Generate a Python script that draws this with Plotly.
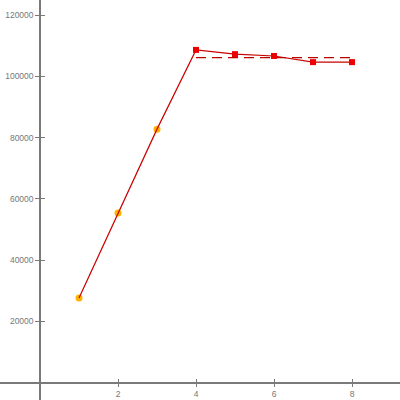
import plotly.graph_objects as go

x_vals = [1, 2, 3, 4, 5, 6, 7, 8]
y_vals = [27600, 55400, 82800, 108700, 107300, 106700, 104700, 104700]
orange_idx = [0, 1, 2]
red_idx = [3, 4, 5, 6, 7]
mean_x = [4, 8]
mean_val = 106200
x_ticks = [2, 4, 6, 8]
y_ticks = [20000, 40000, 60000, 80000, 100000, 120000]

fig = go.Figure()
fig.add_trace(go.Scatter(
    x=[x_vals[i] for i in orange_idx], y=[y_vals[i] for i in orange_idx],
    mode="markers", marker=dict(color="#ffb300", size=7, line=dict(width=0)),
    showlegend=False))
fig.add_trace(go.Scatter(
    x=x_vals, y=y_vals, mode="lines",
    line=dict(color="#cc0000", width=1.2), showlegend=False))
fig.add_trace(go.Scatter(
    x=mean_x, y=[mean_val] * len(mean_x), mode="lines",
    line=dict(color="#bb0000", width=1.2, dash="10px,6px"), showlegend=False))
fig.add_trace(go.Scatter(
    x=[x_vals[i] for i in red_idx], y=[y_vals[i] for i in red_idx],
    mode="markers", marker=dict(color="#ee0000", size=6, symbol="square"),
    showlegend=False))

xr = [-40 / 39, 360 / 39]
yr = [-17.5 * 20000 / 61.2, 382.5 * 20000 / 61.2]
axcol = "#7a7a7a"
font = dict(family="Liberation Sans", size=8.5, color="#777777")

common = dict(showgrid=False, zeroline=False, anchor="free", automargin=False,
              ticklen=4, tickcolor=axcol, tickwidth=1.2, tickformat="d")
fig.update_layout(
    width=400, height=400, margin=dict(l=0, r=0, t=0, b=0, autoexpand=False),
    plot_bgcolor="white", paper_bgcolor="white",
    xaxis=dict(range=xr, showline=True, linecolor=axcol, linewidth=1.5,
               position=17.5 / 400, tickvals=x_ticks, ticks="outside",
               tickfont=font, **common),
    yaxis=dict(range=yr, showline=True, linecolor=axcol, linewidth=1.5,
               position=0.1, tickvals=y_ticks, ticks="outside",
               tickfont=font, **common),
    xaxis2=dict(range=xr, overlaying="x", showline=False, position=17.5 / 400,
                tickvals=x_ticks, ticks="inside", showticklabels=False, **common),
    yaxis2=dict(range=yr, overlaying="y", showline=False, position=0.1,
                tickvals=y_ticks, ticks="inside", showticklabels=False, **common),
)
fig.add_trace(go.Scatter(x=[None], y=[None], xaxis="x2", yaxis="y2", showlegend=False))
fig.write_html("out.html", config={"displayModeBar": False},
               post_script="document.body.style.margin='0';")
